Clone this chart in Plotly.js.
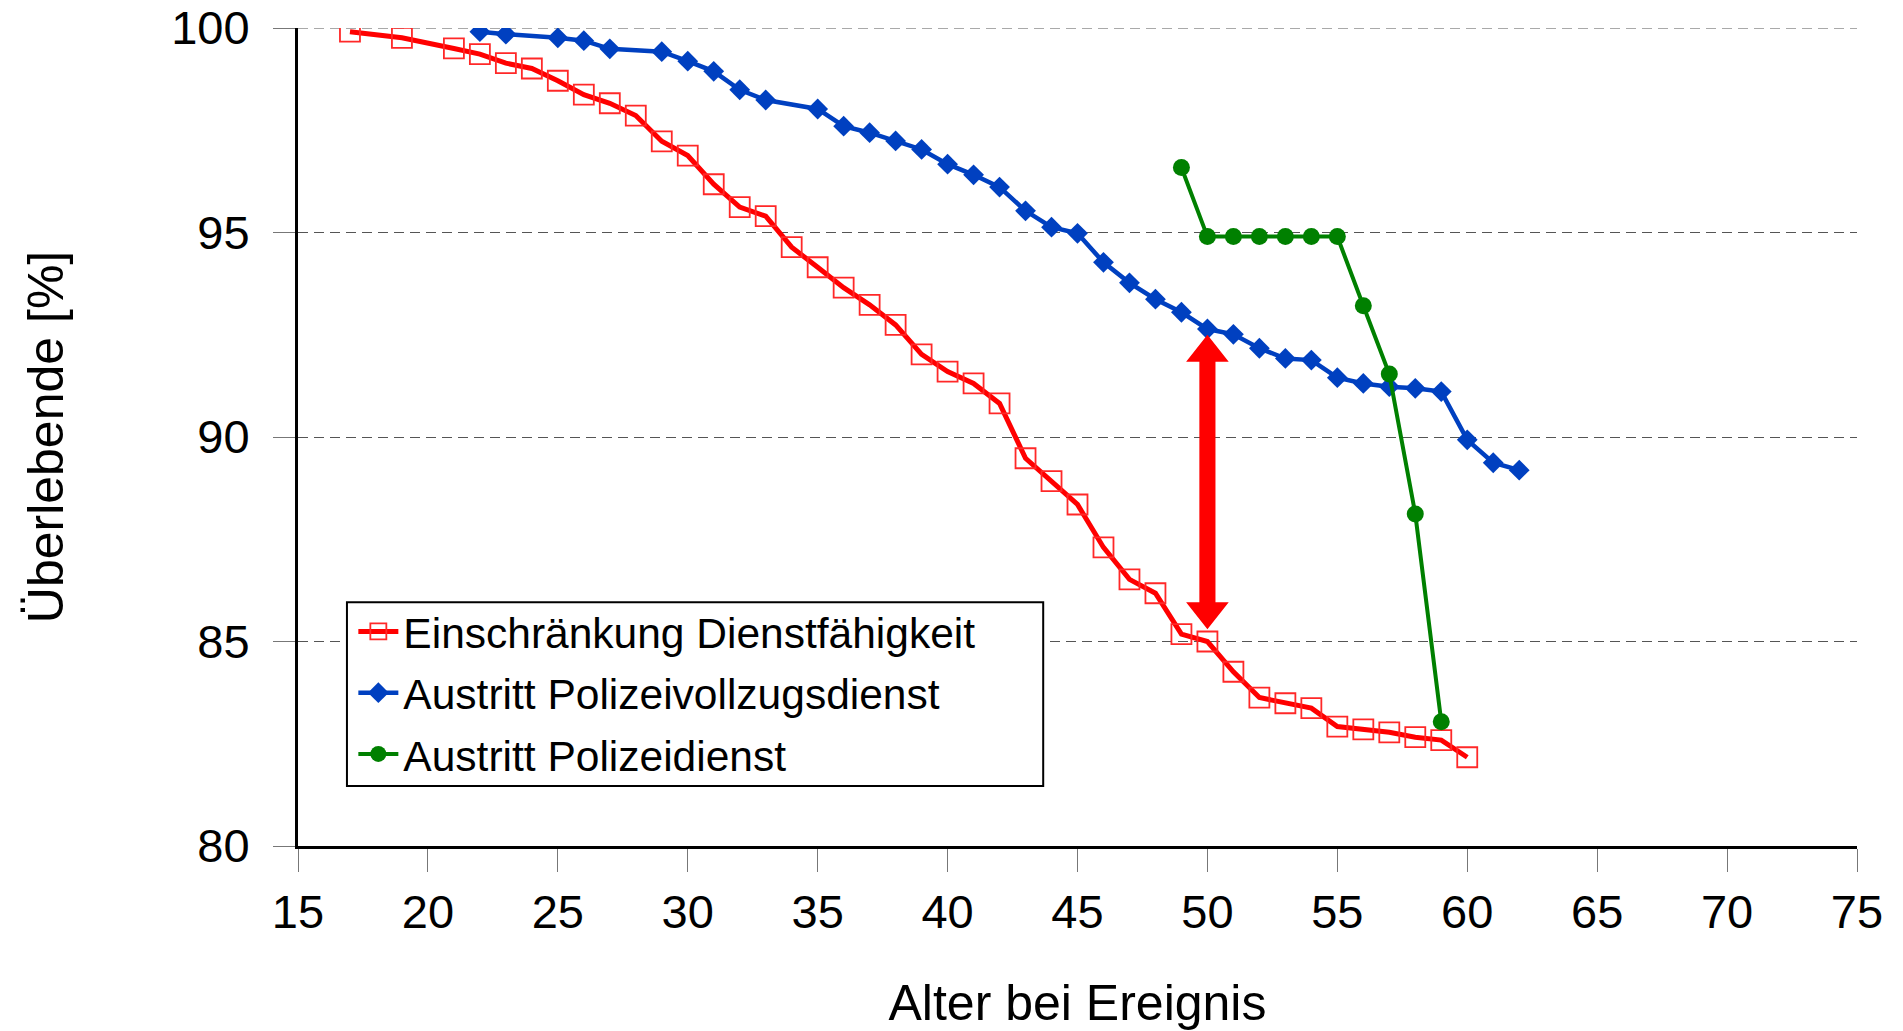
<!DOCTYPE html>
<html>
<head>
<meta charset="utf-8">
<script src="https://cdn.plot.ly/plotly-3.0.1.min.js"></script>
<style>
  html, body { margin: 0; padding: 0; background: #fff; }
  #plot { width: 1903px; height: 1031px; }
</style>
</head>
<body>
<div id="plot"></div>
<script>
// survival curves, values
const redAge = [17, 19, 21, 22, 23, 24, 25, 26, 27, 28, 29, 30, 31, 32, 33, 34, 35, 36, 37, 38, 39, 40,
  41, 42, 43, 44, 45, 46, 47, 48, 49, 50, 51, 52, 53, 54, 55, 56, 57, 58, 59, 60];
const redVal = [99.91, 99.76, 99.50, 99.36, 99.14, 99.01, 98.71, 98.37, 98.16, 97.86, 97.23, 96.88,
  96.18, 95.62, 95.40, 94.64, 94.15, 93.65, 93.23, 92.74, 92.02, 91.60,
  91.31, 90.82, 89.48, 88.92, 88.35, 87.30, 86.52, 86.18, 85.18, 85.00,
  84.26, 83.63, 83.49, 83.37, 82.92, 82.85, 82.78, 82.66, 82.59, 82.17];

const blueAge = [22, 23, 25, 26, 27, 29, 30, 31, 32, 33, 35, 36, 37, 38, 39, 40, 41, 42, 43, 44, 45,
  46, 47, 48, 49, 50, 51, 52, 53, 54, 55, 56, 57, 58, 59, 60, 61, 62];
const blueVal = [99.91, 99.85, 99.76, 99.69, 99.49, 99.42, 99.19, 98.94, 98.49, 98.24, 98.02, 97.60,
  97.44, 97.24, 97.03, 96.67, 96.41, 96.11, 95.53, 95.13, 94.98,
  94.27, 93.77, 93.37, 93.05, 92.64, 92.51, 92.17, 91.92, 91.88, 91.45, 91.31, 91.23, 91.19, 91.11,
  89.93, 89.37, 89.19];

const greenAge = [49, 50, 51, 52, 53, 54, 55, 56, 57, 58, 59];
const greenVal = [96.59, 94.90, 94.90, 94.90, 94.90, 94.90, 94.90, 93.21, 91.54, 88.12, 83.04];

const seriesNames = ['Einschränkung Dienstfähigkeit', 'Austritt Polizeivollzugsdienst', 'Austritt Polizeidienst'];

// double arrow between the curves at age 50
const arrowX = 50, arrowTop = 92.5, arrowBottom = 85.3;
const shaftHalf = 0.31, headHalf = 0.82, headLen = 0.66;

const font = '"Liberation Sans", Arial, Helvetica, sans-serif';

const traces = [
  {
    x: redAge, y: redVal, name: seriesNames[0], legendgroup: 'a',
    mode: 'lines+markers', type: 'scatter',
    line: {color: 'rgb(255,0,0)', width: 5},
    marker: {symbol: 'square-open', size: 20, color: 'rgb(255,40,40)', line: {width: 1.8}}
  },
  {
    x: blueAge, y: blueVal, name: seriesNames[1], legendgroup: 'b',
    mode: 'lines+markers', type: 'scatter',
    line: {color: 'rgb(0,64,192)', width: 4.5},
    marker: {symbol: 'diamond', size: 16, color: 'rgb(0,64,192)'}
  },
  {
    x: greenAge, y: greenVal, name: seriesNames[2], legendgroup: 'c',
    mode: 'lines+markers', type: 'scatter',
    line: {color: 'rgb(0,128,0)', width: 4},
    marker: {symbol: 'circle', size: 17, color: 'rgb(0,128,0)'}
  }
];

function arrowPath() {
  const x = arrowX, t = arrowTop, b = arrowBottom;
  return 'M' + x + ',' + t +
    ' L' + (x + headHalf) + ',' + (t - headLen) +
    ' L' + (x + shaftHalf) + ',' + (t - headLen) +
    ' L' + (x + shaftHalf) + ',' + (b + headLen) +
    ' L' + (x + headHalf) + ',' + (b + headLen) +
    ' L' + x + ',' + b +
    ' L' + (x - headHalf) + ',' + (b + headLen) +
    ' L' + (x - shaftHalf) + ',' + (b + headLen) +
    ' L' + (x - shaftHalf) + ',' + (t - headLen) +
    ' L' + (x - headHalf) + ',' + (t - headLen) + ' Z';
}

const layout = {
  width: 1903, height: 1031,
  margin: {l: 298, r: 46, t: 28, b: 185},
  paper_bgcolor: '#fff', plot_bgcolor: '#fff',
  font: {family: font, color: '#000', size: 46},
  showlegend: true,
  legend: {
    x: 0.0355, y: 0.304, xanchor: 'left', yanchor: 'top',
    bgcolor: 'rgba(0,0,0,0)', borderwidth: 0,
    font: {family: font, size: 42.5}, tracegroupgap: 3, itemwidth: 40
  },
  xaxis: {
    range: [15, 75], tick0: 15, dtick: 5, fixedrange: true,
    showgrid: false, zeroline: false,
    showline: true, linecolor: '#000', linewidth: 3,
    ticks: 'outside', ticklen: 23, tickwidth: 1, tickcolor: '#777',
    ticklabelstandoff: 0,
    tickfont: {size: 47},
    title: {text: 'Alter bei Ereignis', font: {size: 50}, standoff: 62}
  },
  yaxis: {
    range: [80, 100], tick0: 80, dtick: 5, fixedrange: true,
    showgrid: true, gridcolor: '#555', gridwidth: 1, griddash: '10px,6px',
    zeroline: false,
    showline: true, linecolor: '#000', linewidth: 3,
    ticks: 'outside', ticklen: 22, tickwidth: 1, tickcolor: '#777',
    ticklabelstandoff: 14,
    tickfont: {size: 47},
    title: {text: 'Überlebende [%]', font: {size: 50}, standoff: 92}
  },
  shapes: [
    // top grid line (plotly drops the one on the range edge)
    {type: 'line', xref: 'paper', yref: 'y', x0: 0, x1: 1, y0: 100, y1: 100,
      line: {color: '#555', width: 1, dash: '10px,6px'}, layer: 'below'},
    // legend frame
    {type: 'rect', xref: 'paper', yref: 'paper', x0: 0.0314, x1: 0.478, y0: 0.0733, y1: 0.298,
      fillcolor: '#fff', line: {color: '#000', width: 2}, layer: 'above'},
    {type: 'path', xref: 'x', yref: 'y', path: arrowPath(),
      fillcolor: 'rgb(255,0,0)', line: {width: 0}, layer: 'above'}
  ]
};

Plotly.newPlot('plot', traces, layout, {displayModeBar: false, staticPlot: true});
</script>
</body>
</html>
